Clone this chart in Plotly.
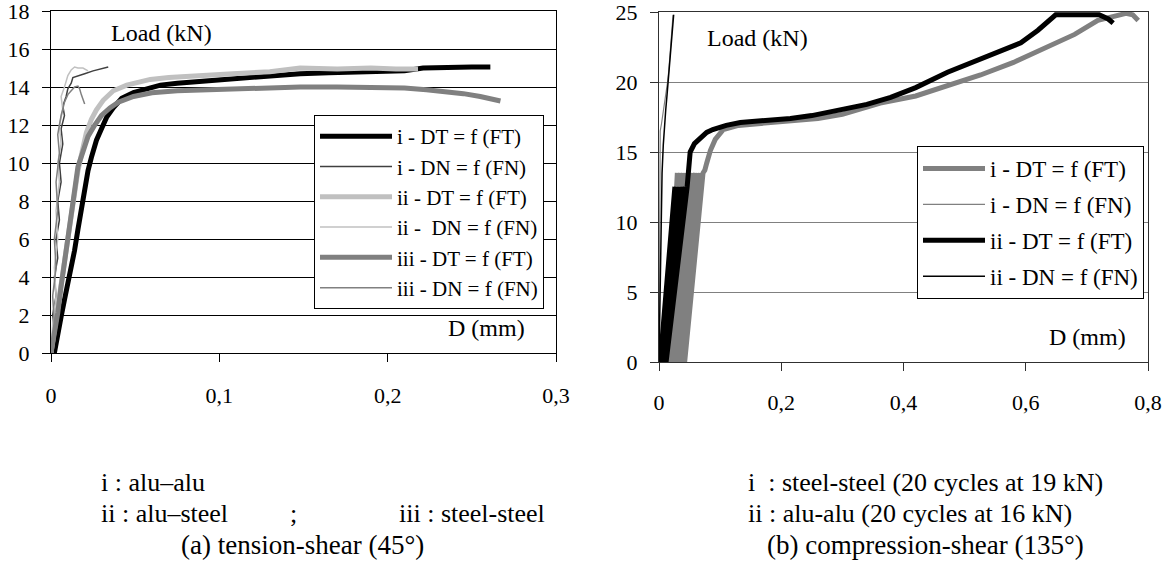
import plotly.graph_objects as go

# ---------------- (a) tension-shear data ----------------
a_i_DT_x = [0.002, 0.004, 0.006, 0.008, 0.010, 0.012, 0.014, 0.016, 0.018, 0.020, 0.022, 0.024, 0.027, 0.030,
            0.033, 0.037, 0.042, 0.049, 0.056, 0.065, 0.075, 0.089, 0.100, 0.115, 0.130, 0.148, 0.165, 0.180,
            0.195, 0.210, 0.221, 0.235, 0.250, 0.261]
a_i_DT_y = [0.0, 0.8, 1.9, 2.8, 3.6, 4.5, 5.4, 6.5, 7.6, 8.6, 9.6, 10.3, 11.2, 11.8,
            12.4, 12.9, 13.4, 13.7, 13.9, 14.1, 14.2, 14.3, 14.4, 14.5, 14.6, 14.7, 14.75, 14.8,
            14.8, 14.85, 15.0, 15.05, 15.05, 15.05]

a_i_DN_x = [0.0, 0.002, 0.001, 0.003, 0.002, 0.004, 0.003, 0.005, 0.004, 0.006, 0.005, 0.007, 0.006, 0.008,
            0.007, 0.009, 0.010, 0.012, 0.013, 0.016, 0.020, 0.025, 0.030, 0.034]
a_i_DN_y = [0.0, 1.0, 2.0, 3.0, 4.0, 5.0, 6.0, 7.0, 8.0, 9.0, 10.0, 11.0, 11.8, 12.5,
            13.0, 13.5, 13.9, 14.2, 14.5, 14.6, 14.7, 14.85, 14.95, 15.05]

a_ii_DT_x = [0.0, 0.002, 0.004, 0.006, 0.008, 0.010, 0.012, 0.014, 0.016, 0.018, 0.021, 0.024, 0.027, 0.031,
             0.037, 0.045, 0.052, 0.059, 0.070, 0.085, 0.108, 0.130, 0.148, 0.170, 0.190, 0.205, 0.218]
a_ii_DT_y = [0.0, 1.2, 2.5, 3.7, 5.0, 6.4, 7.5, 8.6, 9.6, 10.4, 11.6, 12.3, 12.8, 13.3,
             13.8, 14.1, 14.25, 14.4, 14.5, 14.6, 14.7, 14.8, 15.0, 14.95, 15.0, 14.95, 14.95]

a_ii_DN_x = [0.0, 0.001, 0.003, 0.002, 0.004, 0.003, 0.005, 0.004, 0.006, 0.005, 0.007, 0.006, 0.008, 0.009,
             0.010, 0.012, 0.014, 0.016, 0.019, 0.022]
a_ii_DN_y = [0.0, 1.5, 3.0, 4.5, 6.0, 7.5, 9.0, 10.0, 11.0, 12.0, 12.8, 13.5, 14.0, 14.3,
             14.6, 14.9, 15.05, 15.0, 15.0, 14.85]

a_iii_DT_x = [0.0, 0.002, 0.004, 0.006, 0.008, 0.0095, 0.011, 0.014, 0.016, 0.019, 0.022, 0.026, 0.030, 0.035,
              0.040, 0.049, 0.060, 0.075, 0.089, 0.110, 0.130, 0.148, 0.170, 0.190, 0.210, 0.223, 0.235,
              0.245, 0.255, 0.267]
a_iii_DT_y = [0.0, 1.0, 2.1, 3.5, 4.8, 5.9, 6.8, 8.6, 9.8, 10.6, 11.4, 12.0, 12.5, 12.9,
              13.2, 13.5, 13.7, 13.8, 13.85, 13.9, 13.95, 14.0, 14.0, 14.0, 13.95, 13.85, 13.75,
              13.65, 13.5, 13.26]

a_iii_DN_x = [0.0, 0.002, 0.001, 0.003, 0.002, 0.004, 0.003, 0.005, 0.004, 0.006, 0.008, 0.010, 0.012, 0.014,
              0.016, 0.017, 0.018, 0.020]
a_iii_DN_y = [0.0, 1.5, 3.0, 4.5, 6.0, 7.5, 9.0, 10.5, 11.5, 12.5, 13.2, 13.6, 13.8, 14.0,
              14.05, 13.9, 13.6, 13.1]

# ---------------- (b) compression-shear data ----------------
b_i_DT_x = [0.014, 0.030, 0.017, 0.035, 0.020, 0.040, 0.023, 0.044, 0.026, 0.048, 0.029, 0.052, 0.032, 0.056,
            0.035, 0.060, 0.038, 0.064, 0.040, 0.068, 0.042, 0.072, 0.075, 0.078, 0.084, 0.092, 0.105,
            0.130, 0.170, 0.215, 0.260, 0.300, 0.362, 0.420, 0.470, 0.526, 0.580, 0.636, 0.680, 0.718,
            0.745, 0.764, 0.775, 0.784]
b_i_DT_y = [0.0, 13.5, 0.0, 13.5, 0.0, 13.5, 0.0, 13.5, 0.0, 13.5, 0.0, 13.5, 0.0, 13.5,
            0.0, 13.5, 0.0, 13.5, 0.0, 13.5, 0.0, 13.5, 13.7, 14.2, 15.1, 15.9, 16.6,
            16.9, 17.05, 17.2, 17.4, 17.7, 18.5, 19.0, 19.7, 20.5, 21.4, 22.5, 23.4, 24.4,
            24.7, 24.9, 24.8, 24.4]

b_i_DN_x = [0.0, 0.0005, 0.001, 0.0015, 0.002, 0.004, 0.007, 0.010, 0.012, 0.014, 0.016, 0.018, 0.020, 0.022, 0.023]
b_i_DN_y = [0.0, 5.0, 10.0, 14.0, 16.5, 17.0, 17.8, 18.6, 19.4, 20.0, 20.8, 21.8, 23.0, 24.2, 24.8]

b_ii_DT_x = [0.002, 0.026, 0.0032, 0.0285, 0.0044, 0.031, 0.0056, 0.0335, 0.0068, 0.036, 0.008, 0.0385,
             0.0092, 0.041, 0.0104, 0.0435, 0.0116, 0.046, 0.048, 0.051, 0.058, 0.067, 0.078, 0.088,
             0.110, 0.133, 0.170, 0.215, 0.250, 0.297, 0.340, 0.379, 0.420, 0.472, 0.530, 0.592,
             0.620, 0.649, 0.690, 0.720, 0.735, 0.743]
b_ii_DT_y = [0.0, 12.5, 0.0, 12.5, 0.0, 12.5, 0.0, 12.5, 0.0, 12.5, 0.0, 12.5,
             0.0, 12.5, 0.0, 12.5, 0.0, 12.5, 14.0, 15.0, 15.6, 15.95, 16.4, 16.6,
             16.9, 17.1, 17.2, 17.4, 17.6, 18.0, 18.4, 18.9, 19.6, 20.7, 21.7, 22.8,
             23.7, 24.8, 24.8, 24.8, 24.5, 24.2]

b_ii_DN_x = [0.0, 0.001, 0.002, 0.003, 0.004, 0.005, 0.007, 0.009, 0.011, 0.013, 0.015, 0.017, 0.019, 0.021,
             0.023, 0.024]
b_ii_DN_y = [0.0, 3.0, 6.0, 9.0, 11.5, 13.5, 15.5, 17.0, 18.0, 19.0, 20.0, 21.0, 22.0, 23.0,
             24.0, 24.8]

a_names = ["i - DT = f (FT)", "i - DN = f (FN)", "ii - DT = f (FT)", "ii -  DN = f (FN)",
           "iii - DT = f (FT)", "iii - DN = f (FN)"]
b_names = ["i - DT = f (FT)", "i - DN = f (FN)", "ii - DT = f (FT)", "ii - DN = f (FN)"]

a_x_ticks = [0, 0.1, 0.2, 0.3]
a_y_ticks = [0, 2, 4, 6, 8, 10, 12, 14, 16, 18]
b_x_ticks = [0, 0.2, 0.4, 0.6, 0.8]
b_y_ticks = [0, 5, 10, 15, 20, 25]

FONT = "Liberation Serif"
BLACK, DARK, MID, LIGHT = "#000000", "#404040", "#808080", "#c0c0c0"
THICK, THIN = 5, 1.5

W, H = 1168, 564

fig = go.Figure()

a_series = [
    (a_i_DT_x, a_i_DT_y, BLACK, THICK),
    (a_i_DN_x, a_i_DN_y, DARK, THIN),
    (a_ii_DT_x, a_ii_DT_y, LIGHT, THICK),
    (a_ii_DN_x, a_ii_DN_y, LIGHT, THIN),
    (a_iii_DT_x, a_iii_DT_y, MID, THICK),
    (a_iii_DN_x, a_iii_DN_y, MID, THIN),
]
for name, (xs, ys, col, w) in zip(a_names, a_series):
    fig.add_trace(go.Scatter(x=xs, y=ys, mode="lines", name=name,
                             line=dict(color=col, width=w), xaxis="x", yaxis="y",
                             legend="legend"))

b_series = [
    (b_i_DT_x, b_i_DT_y, MID, THICK),
    (b_i_DN_x, b_i_DN_y, MID, 1.2),
    (b_ii_DT_x, b_ii_DT_y, BLACK, THICK),
    (b_ii_DN_x, b_ii_DN_y, BLACK, THIN),
]
for k, (name, (xs, ys, col, w)) in enumerate(zip(b_names, b_series)):
    fig.add_trace(go.Scatter(x=xs, y=ys, mode="lines", name=name,
                             line=dict(color=col, width=w), xaxis="x2", yaxis="y2",
                             legend="legend2", legendgroup="b%d" % k))

def px_x(p):
    return p / W

def px_y(p):
    return 1 - p / H

axfont = dict(family=FONT, size=22, color="black")
common = dict(automargin=False, ticklabeloverflow="allow", zeroline=False,
              showline=True, linewidth=1, mirror=True, ticks="outside", ticklen=8,
              tickfont=axfont)

fig.update_layout(
    template="none",
    width=W, height=H,
    margin=dict(l=0, r=0, t=0, b=0, autoexpand=False),
    paper_bgcolor="white", plot_bgcolor="white",
    separators=", ",
    font=dict(family=FONT, color="black"),
    xaxis=dict(domain=[px_x(51), px_x(556)], range=[0, 0.3], tickvals=a_x_ticks,
               showgrid=False, linecolor="black", tickcolor="black",
               ticklabelstandoff=15, anchor="y", **common),
    yaxis=dict(domain=[px_y(353), px_y(11)], range=[0, 18], tickvals=a_y_ticks,
               showgrid=True, gridcolor="black", gridwidth=1,
               linecolor="black", tickcolor="black",
               ticklabelstandoff=8, anchor="x", **common),
    xaxis2=dict(domain=[px_x(659), px_x(1148)], range=[0, 0.8], tickvals=b_x_ticks,
                showgrid=False, linecolor="#303030", tickcolor="#303030",
                ticklabelstandoff=13, anchor="y2", **common),
    yaxis2=dict(domain=[px_y(362), px_y(12)], range=[0, 25], tickvals=b_y_ticks,
                showgrid=True, gridcolor="#808080", gridwidth=1,
                linecolor="#303030", tickcolor="#303030",
                ticklabelstandoff=8, anchor="x2", **common),
    legend=dict(x=px_x(314), y=px_y(115), xanchor="left", yanchor="top",
                bgcolor="white", bordercolor="black", borderwidth=1,
                font=dict(family=FONT, size=21, color="black"), itemwidth=72,
                entrywidth=160, entrywidthmode="pixels", tracegroupgap=0),
    legend2=dict(x=px_x(917), y=px_y(146), xanchor="left", yanchor="top",
                 bgcolor="white", bordercolor="black", borderwidth=1,
                 font=dict(family=FONT, size=23, color="black"), itemwidth=62,
                 tracegroupgap=3, traceorder="grouped"),
    showlegend=True,
)

ann_font = dict(family=FONT, size=24, color="black")
cap_font = dict(family=FONT, size=26, color="black")
big_font = dict(family=FONT, size=27, color="black")
anns = [
    ("Load (kN)", 161, 33, "center", ann_font),
    ("D (mm)", 487, 328, "center", ann_font),
    ("Load (kN)", 757, 38, "center", ann_font),
    ("D (mm)", 1087, 337, "center", ann_font),
    ("i : alu–alu", 99, 482, "left", cap_font),
    ("ii : alu–steel", 99, 513, "left", cap_font),
    (";", 293, 513, "center", cap_font),
    ("iii : steel-steel", 397, 513, "left", cap_font),
    ("(a) tension-shear (45°)", 302, 545, "center", big_font),
    ("i  : steel-steel (20 cycles at 19 kN)", 746, 482, "left", cap_font),
    ("ii : alu-alu (20 cycles at 16 kN)", 746, 513, "left", cap_font),
    ("(b) compression-shear (135°)", 925, 545, "center", big_font),
]
for text, x, y, anchor, f in anns:
    fig.add_annotation(text=text, x=px_x(x), y=px_y(y), xref="paper", yref="paper",
                       xanchor=anchor, yanchor="middle", showarrow=False, font=f)

fig.write_html("out.html")
